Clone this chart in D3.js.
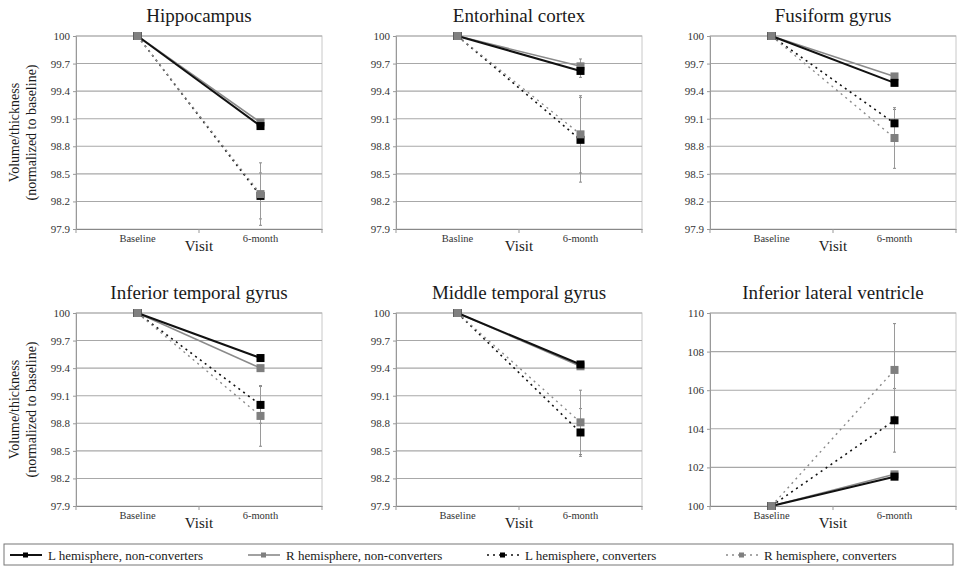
<!DOCTYPE html>
<html>
<head>
<meta charset="utf-8">
<script src="https://cdn.jsdelivr.net/npm/d3@7"></script>
<style>
  body { margin: 0; background: #fff; }
  svg, svg text { font-family: "Liberation Serif", "Tinos", "DejaVu Serif", "Times New Roman", Times, serif !important; }
</style>
</head>
<body>
<svg width="957" height="569"></svg>
<script>
// regions shown, one panel each
const regions = ["Hippocampus", "Entorhinal cortex", "Fusiform gyrus",
  "Inferior temporal gyrus", "Middle temporal gyrus", "Inferior lateral ventricle"];
const visits = ["Baseline", "6-month"];
// the entorhinal panel spells its first label differently in the source
const baselineLabels = ["Baseline", "Basline", "Baseline", "Baseline", "Baseline", "Baseline"];

const seriesNames = ["L hemisphere, non-converters", "R hemisphere, non-converters",
  "L hemisphere, converters", "R hemisphere, converters"];

// values at baseline are 100 (normalized); these are the 6-month values
const baseline = [100, 100, 100, 100, 100, 100];
const lNonConv = [99.02, 99.62, 99.49, 99.51, 99.44, 101.52];
const rNonConv = [99.06, 99.67, 99.56, 99.40, 99.42, 101.64];
const lConv    = [98.26, 98.87, 99.05, 99.00, 98.70, 104.44];
const rConv    = [98.28, 98.93, 98.89, 98.88, 98.81, 107.05];

// error bar half-widths at 6-month
const lNonConvErr = [0.03, 0.07, 0.03, 0.03, 0.03, 0.15];
const rNonConvErr = [0.03, 0.08, 0.03, 0.03, 0.03, 0.15];
const lConvErr    = [0.25, 0.46, 0.15, 0.20, 0.26, 1.65];
const rConvErr    = [0.34, 0.42, 0.33, 0.33, 0.35, 2.40];

// y tick labels
const ticksThickness = [97.9, 98.2, 98.5, 98.8, 99.1, 99.4, 99.7, 100];
const ticksVentricle = [100, 102, 104, 106, 108, 110];
const panelTicks = [ticksThickness, ticksThickness, ticksThickness,
  ticksThickness, ticksThickness, ticksVentricle];

const yLabel = ["Volume/thickness", "(normalized to baseline)"];

const FONT = "'Liberation Serif', 'DejaVu Serif', serif";
const svg = d3.select("svg").attr("font-family", FONT);

const colLeft = [76, 396, 710];
const rowTop = [36, 313];
const plotW = 246, plotH = 193;

const seriesStyle = [
  { color: "#111", width: 2, dash: null, values: lNonConv, err: lNonConvErr },
  { color: "#8a8a8a", width: 1.6, dash: null, values: rNonConv, err: rNonConvErr },
  { color: "#111", width: 1.6, dash: "2,4", values: lConv, err: lConvErr },
  { color: "#8a8a8a", width: 1.4, dash: "2,4", values: rConv, err: rConvErr }
];

regions.forEach((name, i) => {
  const left = colLeft[i % 3];
  const top = rowTop[Math.floor(i / 3)];
  const ticks = panelTicks[i];
  const g = svg.append("g").attr("transform", "translate(" + left + "," + top + ")");

  const x = d3.scaleBand().domain(visits).range([0, plotW]);
  const y = d3.scaleLinear().domain(d3.extent(ticks)).range([plotH, 0]);
  const cx = d => x(d) + x.bandwidth() / 2;

  // frame + gridlines
  g.append("rect").attr("width", plotW).attr("height", plotH)
    .attr("fill", "none").attr("stroke", "#c8c8c8");
  g.selectAll(".grid").data(ticks.slice(1)).enter().append("line")
    .attr("x1", 0).attr("x2", plotW)
    .attr("y1", d => y(d)).attr("y2", d => y(d))
    .attr("stroke", "#a8a8a8").attr("stroke-width", 1.1);

  // axes
  const yAxis = g.append("g").call(d3.axisLeft(y).tickValues(ticks).tickSize(3)
    .tickFormat(d => i === 5 || d === 100 ? d3.format("d")(d) : d.toFixed(1)));
  yAxis.attr("font-family", FONT);
  yAxis.select(".domain").attr("stroke", "#999");
  yAxis.selectAll(".tick line").attr("stroke", "#999");
  yAxis.selectAll("text").attr("font-size", 11).attr("fill", "#333");

  const xAxis = g.append("g").attr("transform", "translate(0," + plotH + ")")
    .call(d3.axisBottom(x).tickSize(0).tickPadding(6)
      .tickFormat((d, k) => k === 0 ? baselineLabels[i] : d));
  xAxis.attr("font-family", FONT);
  xAxis.select(".domain").attr("stroke", "#888");
  xAxis.selectAll("text").attr("font-size", 10.5).attr("fill", "#333");
  xAxis.selectAll(".band-tick").data([0, plotW / 2, plotW]).enter().append("line")
    .attr("x1", d => d).attr("x2", d => d).attr("y1", 0).attr("y2", 4)
    .attr("stroke", "#999");

  // title
  g.append("text").attr("x", plotW / 2).attr("y", -14)
    .attr("text-anchor", "middle").attr("font-size", 19).attr("fill", "#1a1a1a")
    .text(name);

  // x title
  g.append("text").attr("x", plotW / 2).attr("y", plotH + 22)
    .attr("text-anchor", "middle").attr("font-size", 15).attr("fill", "#1a1a1a")
    .text("Visit");

  // y title on first column only
  if (i % 3 === 0) {
    yLabel.forEach((t, k) => {
      g.append("text")
        .attr("transform", "translate(" + (-57 + k * 17) + "," + (plotH / 2) + ") rotate(-90)")
        .attr("text-anchor", "middle").attr("font-size", 14).attr("fill", "#1a1a1a")
        .text(t);
    });
  }

  // error bars (drawn beneath lines)
  seriesStyle.forEach(s => {
    const v = s.values[i], e = s.err[i];
    const xe = cx(visits[1]);
    g.append("line").attr("x1", xe).attr("x2", xe)
      .attr("y1", y(v - e)).attr("y2", y(v + e))
      .attr("stroke", "#9a9a9a").attr("stroke-width", 1);
    [v - e, v + e].forEach(w => {
      g.append("line").attr("x1", xe - 1.5).attr("x2", xe + 1.5)
        .attr("y1", y(w)).attr("y2", y(w)).attr("stroke", "#888");
    });
  });

  // series lines and markers: converters first, gray converter marker over black
  [2, 3, 1, 0].forEach(k => {
    const s = seriesStyle[k];
    const pts = [[visits[0], baseline[i]], [visits[1], s.values[i]]];
    g.append("path").datum(pts)
      .attr("d", d3.line().x(d => cx(d[0])).y(d => y(d[1])))
      .attr("fill", "none").attr("stroke", s.color).attr("stroke-width", s.width)
      .attr("stroke-dasharray", s.dash);
    g.selectAll(".m" + k).data(pts).enter().append("rect")
      .attr("x", d => cx(d[0]) - 4).attr("y", d => y(d[1]) - 4)
      .attr("width", 8).attr("height", 8)
      .attr("fill", k % 2 === 0 ? "#000" : "#7f7f7f");
  });
  // baseline marker is the gray one on top
  g.append("rect").attr("x", cx(visits[0]) - 4).attr("y", y(baseline[i]) - 4)
    .attr("width", 8).attr("height", 8).attr("fill", "#808080");
});

// legend
const legend = svg.append("g").attr("transform", "translate(4,544)");
legend.append("rect").attr("width", 949).attr("height", 21)
  .attr("fill", "#fff").attr("stroke", "#777");
const itemX = [6, 244, 483, 722];
seriesNames.forEach((n, k) => {
  const s = seriesStyle[k];
  const it = legend.append("g").attr("transform", "translate(" + itemX[k] + ",11)");
  it.append("line").attr("x1", 0).attr("x2", 32).attr("y1", 0).attr("y2", 0)
    .attr("stroke", s.color).attr("stroke-width", s.width)
    .attr("stroke-dasharray", s.dash);
  it.append("rect").attr("x", 13).attr("y", -2.5).attr("width", 5).attr("height", 5)
    .attr("fill", k % 2 === 0 ? "#000" : "#7f7f7f");
  it.append("text").attr("x", 38).attr("y", 4.5).attr("font-size", 13)
    .attr("fill", "#1a1a1a").text(n);
});
</script>
</body>
</html>
